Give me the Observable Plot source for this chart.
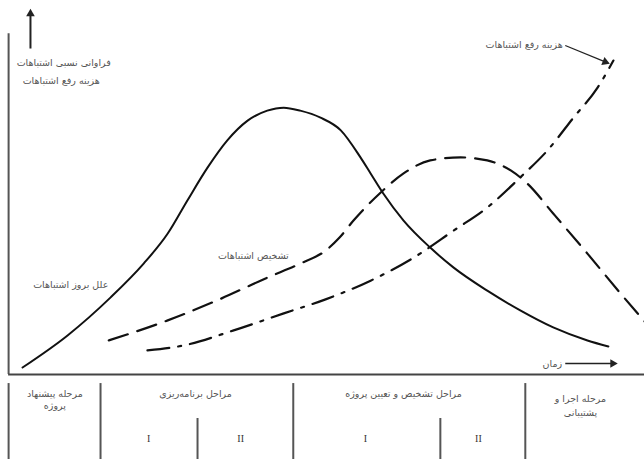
<!DOCTYPE html>
<html>
<head>
<meta charset="utf-8">
<script src="https://cdn.jsdelivr.net/npm/d3@7"></script>
<script src="https://cdn.jsdelivr.net/npm/@observablehq/plot@0.6"></script>
<style>
  html, body { margin: 0; padding: 0; background: #fff; }
  svg { display: block; }
</style>
</head>
<body>
<div id="chart"></div>
<script>
// ---- data (time units 0–100, relative level 0–100) ----
const causesT = [1.9, 9.0, 15.8, 21.0, 24.8, 27.9, 31.1, 34.2, 37.4, 40.5, 43.1, 45.7, 48.9, 52.1, 55.2, 56.8, 58.8, 62.0, 66.2, 69.9, 75.2, 80.4, 85.6, 91.0, 94.3];
const causesV = [2.1, 11.7, 23.1, 33.2, 42.2, 52.1, 62.0, 70.1, 76.0, 79.0, 79.9, 79.0, 76.9, 73.1, 65.0, 60.2, 54.2, 46.1, 38.0, 32.0, 25.1, 19.2, 14.1, 10.2, 8.4];

const detectT = [15.5, 24.8, 32.6, 40.5, 45.7, 49.7, 51.9, 54.1, 58.4, 62.0, 66.2, 71.0, 75.2, 78.9, 81.5, 85.6, 91.0, 96.2, 100];
const detectV = [10.2, 16.2, 22.2, 29.0, 33.2, 37.1, 41.0, 46.1, 54.5, 60.2, 64.1, 65.0, 64.1, 61.1, 57.2, 48.2, 36.2, 24.3, 15.9];

const costT = [21.6, 27.3, 35.2, 43.1, 49.7, 56.8, 63.6, 69.9, 75.2, 80.4, 84.7, 88.8, 92.6, 95.1];
const costV = [7.2, 8.7, 13.2, 18.3, 22.5, 28.1, 35.0, 43.1, 50.0, 59.0, 67.1, 76.9, 85.9, 94.0];

const yAxisTitle = ["فراوانی نسبی اشتباهات", "هزینه رفع اشتباهات"];
const curveLabels = ["علل بروز اشتباهات", "تشخیص اشتباهات", "هزینه رفع اشتباهات"];
const timeLabel = "زمان";

// phases band
const phaseDividers = [-0.3, 14.2, 44.6, 81.2];
const subDividers = [29.5, 67.8];
const phaseNames = [
  ["مرحله پیشنهاد", "پروژه"],
  ["مراحل برنامه\u200cریزی"],
  ["مراحل تشخیص و تعیین پروژه"],
  ["مرحله اجرا و", "پشتیبانی"]
];
const phaseCenters = [7.0, 29.2, 62.0, 89.9];
const subLabels = ["I", "II", "I", "II"];
const subCenters = [21.8, 36.3, 56.0, 73.8];

// ---- build tables ----
const causes = causesT.map((t, i) => ({t, v: causesV[i]}));
const detect = detectT.map((t, i) => ({t, v: detectV[i]}));
const cost = costT.map((t, i) => ({t, v: costV[i]}));

// arrows: shaft from (x1,y1) to (x2,y2), filled head at the end
const arrows = [
  {x1: 3.15, y1: 97.6, x2: 3.15, y2: 108.0, rot: 0, w: 2},
  {x1: 87.5, y1: 3.3, x2: 95.0, y2: 3.3, rot: 90, w: 1.5},
  {x1: 87.5, y1: 98.5, x2: 93.8, y2: 93.6, rot: 112, w: 1.2}
];

const font = "DejaVu Sans";
const textFill = "#555";
const fs = 9.5;

const main = Plot.plot({
  width: 644,
  height: 376,
  marginLeft: 10,
  marginRight: 0,
  marginTop: 40,
  marginBottom: 2,
  style: {fontFamily: font, background: "#fff"},
  x: {domain: [0, 100], axis: null},
  y: {domain: [0, 100], axis: null},
  marks: [
    // frame: left and bottom
    Plot.ruleX([-0.3], {y1: 0, y2: 102, stroke: "#555", strokeWidth: 2}),
    Plot.ruleY([0], {x1: -0.3, x2: 100, stroke: "#444", strokeWidth: 2}),
    // arrows
    Plot.link(arrows, {x1: "x1", y1: "y1", x2: "x2", y2: "y2", stroke: "#222", strokeWidth: "w"}),
    Plot.dot(arrows, {x: "x2", y: "y2", symbol: "triangle", r: 3.2, fill: "#222", stroke: null, rotate: "rot"}),
    Plot.text([timeLabel], {x: 87.0, y: 3.3, textAnchor: "end", fontSize: fs, fill: textFill}),
    // curves
    Plot.line(causes, {x: "t", y: "v", curve: "monotone-x", stroke: "#111", strokeWidth: 2}),
    Plot.line(detect, {x: "t", y: "v", curve: "monotone-x", stroke: "#111", strokeWidth: 2.2, strokeDasharray: "20,10"}),
    Plot.line(cost, {x: "t", y: "v", curve: "monotone-x", stroke: "#111", strokeWidth: 2.2, strokeDasharray: "22,9,3,9"}),
    // labels
    Plot.text([yAxisTitle[0]], {x: 8.4, y: 93.4, fontSize: fs, fill: textFill}),
    Plot.text([yAxisTitle[1]], {x: 8.0, y: 88.0, fontSize: fs, fill: textFill}),
    Plot.text([curveLabels[0]], {x: 9.5, y: 26.9, fontSize: fs, fill: textFill}),
    Plot.text([curveLabels[1]], {x: 38.3, y: 35.6, fontSize: fs, fill: textFill}),
    Plot.text([curveLabels[2]], {x: 87.1, y: 98.8, textAnchor: "end", fontSize: fs, fill: textFill})
  ]
});

const lines = [];
phaseNames.forEach((arr, i) => {
  const last = i === phaseNames.length - 1;
  arr.forEach((s, j) => lines.push({t: phaseCenters[i], d: last ? (j === 0 ? 0.265 : 0.434) : (j === 0 ? 0.205 : 0.35), s}));
});
const subs = subLabels.map((s, i) => ({t: subCenters[i], d: 0.747, s}));

const band = Plot.plot({
  width: 644,
  height: 83,
  marginLeft: 10,
  marginRight: 0,
  marginTop: 0,
  marginBottom: 0,
  style: {fontFamily: font, background: "#fff"},
  x: {domain: [0, 100], axis: null},
  y: {domain: [0, 1], range: [0, 83], axis: null},
  marks: [
    Plot.ruleX(phaseDividers, {y1: 0.085, y2: 1, stroke: "#555", strokeWidth: 2}),
    Plot.ruleX(subDividers, {y1: 0.506, y2: 1, stroke: "#555", strokeWidth: 2}),
    Plot.text(lines, {x: "t", y: "d", text: "s", fontSize: fs, fill: textFill}),
    Plot.text(subs, {x: "t", y: "d", text: "s", fontSize: 10, fill: "#333", fontFamily: "Liberation Serif"})
  ]
});

const root = document.getElementById("chart");
root.appendChild(main);
root.appendChild(band);
</script>
</body>
</html>
